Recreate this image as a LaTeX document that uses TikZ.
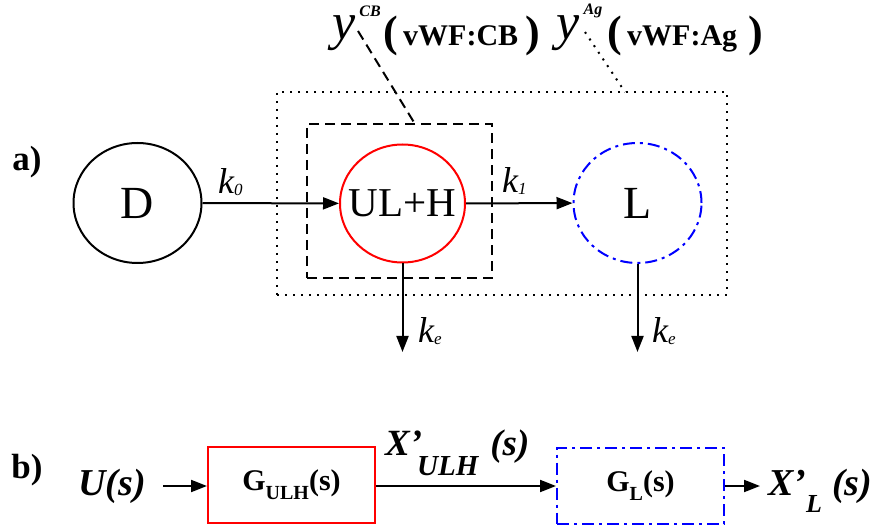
\documentclass[tikz,border=0pt]{standalone}
\usepackage{fontspec}
\setmainfont{Liberation Serif}
\usetikzlibrary{arrows.meta,shapes.geometric}
\begin{document}
\begin{tikzpicture}[x=1pt,y=-1pt,
  fs/.style={font=\fontsize{#1}{#1}\selectfont},
  fsb/.style={font=\fontsize{#1}{#1}\selectfont\bfseries},
  fsbi/.style={font=\fontsize{#1}{#1}\selectfont\bfseries\itshape},
  fsi/.style={font=\fontsize{#1}{#1}\selectfont\itshape},
  lw/.style={line width=2pt},
  arr/.style={lw,-{Triangle[length=16pt,width=12pt]}},
  dashedbox/.style={lw,dash pattern=on 10pt off 6pt},
  dottedbox/.style={lw,dash pattern=on 2pt off 6pt},
  dashdot/.style={lw,dash pattern=on 12pt off 5pt on 3pt off 5pt},
  state/.style={ellipse,lw,inner sep=0pt,minimum width=128pt,minimum height=120pt},
  blk/.style={rectangle,lw,inner sep=0pt,minimum width=167pt,minimum height=76pt,fsb=30},
  lbl/.style={inner sep=0pt}]
\useasboundingbox (0,0) rectangle (875,526);
% a)
\node[lbl,fsb=35] (a) at (27,162) {a)};
\node[dottedbox,draw,minimum width=450pt,minimum height=203pt,inner sep=0pt] (ag) at (502,193.5) {};
\node[dashedbox,draw,minimum width=185pt,minimum height=154pt,inner sep=0pt] (cb) at (399.5,201) {};
\node[state,draw=black] (D) at (137.5,203) {};
\node[lbl,fs=46] (tD) at (D) {D};
\node[state,draw=red,minimum width=125pt,minimum height=118pt] (ULH) at (402.5,203.5) {};
\node[lbl,fs=41] (tULH) at (ULH) {UL+H};
\node[state,draw=blue,dashdot] (L) at (637.5,203) {};
\node[lbl,fs=46] (tL) at (L) {L};
\draw[arr] (D) -- (ULH);
\draw[arr] (ULH) -- (L);
\node[lbl,fsi=36,anchor=base west] (k0) at (218,194) {k\raisebox{-0.05em}{\fontsize{17}{17}\selectfont 0}};
\node[lbl,fsi=36,anchor=base west] (k1) at (502,193) {k\raisebox{-0.05em}{\fontsize{17}{17}\selectfont 1}};
\coordinate (e1) at (402.5,352);
\coordinate (e2) at (637.5,352);
\draw[arr] (ULH) -- (e1);
\draw[arr] (L) -- (e2);
\node[lbl,fsi=36,anchor=base west] (ke1) at (418,343) {k\raisebox{-0.05em}{\fontsize{17}{17}\selectfont e}};
\node[lbl,fsi=36,anchor=base west] (ke2) at (652,343) {k\raisebox{-0.05em}{\fontsize{17}{17}\selectfont e}};
% labels top
\node[lbl,fsi=52,anchor=base west] (ycb) at (332,40) {y};
\node[lbl,fsbi=16] (scb) at (370,11) {CB};
\node[lbl,fsb=44] (p1) at (391,36) {(};
\node[lbl,fsb=30,anchor=base west] (tcb) at (403,46) {vWF:CB};
\node[lbl,fsb=44] (p2) at (533,36) {)};
\node[lbl,fsi=52,anchor=base west] (yag) at (556,40) {y};
\node[lbl,fsbi=16] (sag) at (593,11) {Ag};
\node[lbl,fsb=44] (p3) at (615,36) {(};
\node[lbl,fsb=30,anchor=base west] (tag) at (627,46) {vWF:Ag};
\node[lbl,fsb=44] (p4) at (756,36) {)};
\coordinate (cbtop) at (415,124);
\coordinate (agtop) at (625,92);
\coordinate (cbs) at (358,31);
\coordinate (ags) at (585,32);
\draw[dashedbox] (cbs) -- (cbtop);
\draw[dottedbox] (ags) -- (agtop);
% b)
\node[lbl,fsb=35] (b) at (27,470) {b)};
\node[lbl,fsbi=38] (U) at (112,486) {U(s)};
\node[blk,draw=red] (G1) at (291.5,485) {G\raisebox{-0.3em}{\fontsize{20}{20}\selectfont ULH}(s)};
\node[blk,draw=blue,dashdot] (G2) at (640.5,485.5) {G\raisebox{-0.3em}{\fontsize{20}{20}\selectfont L}(s)};
\coordinate (u0) at (163,486);
\coordinate (xo) at (760,486);
\draw[arr] (u0) -- (G1.west |- u0);
\draw[arr] (G1.east |- u0) -- (G2.west |- u0);
\draw[arr] (G2.east |- u0) -- (xo);
\node[lbl,fsbi=37,anchor=base west] (X1) at (385,455) {X’\hspace{-5pt}\raisebox{-0.55em}{\fontsize{29}{29}\selectfont ULH}\hspace{12pt}(s)};
\node[lbl,fsbi=38,anchor=base west] (X2) at (768,495) {X’\raisebox{-0.45em}{\fontsize{26}{26}\selectfont L}\hspace{10pt}(s)};
\end{tikzpicture}
\end{document}
